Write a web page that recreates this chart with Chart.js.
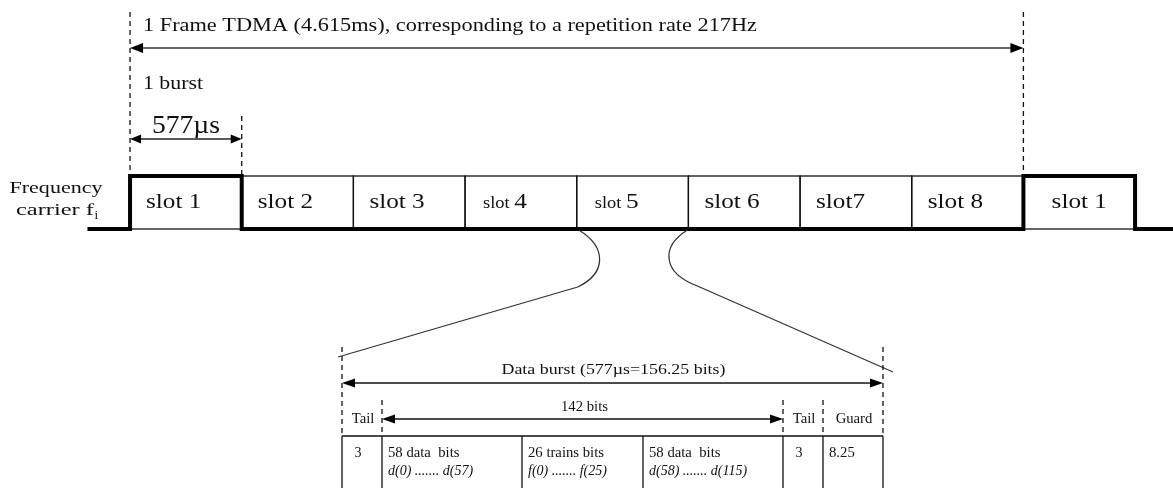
<!DOCTYPE html>
<html>
<head>
<meta charset="utf-8">
<script src="https://cdn.jsdelivr.net/npm/chart.js@4.4.1/dist/chart.umd.min.js"></script>
<style>
  html, body { margin: 0; padding: 0; background: #fff; }
  #wrap { width: 1173px; height: 488px; position: relative; }
</style>
</head>
<body>
<div id="wrap"><canvas id="tdma"></canvas></div>
<script>
// GSM TDMA frame, 8 slots, slot 1 comes again in the next frame
const slotLabels = ["slot 1", "slot 2", "slot 3", "slot 4", "slot 5", "slot 6", "slot7", "slot 8", "slot 1"];
const carrierOn = [1, 0, 0, 0, 0, 0, 0, 0, 1]; // carrier fi active during the slot
const burstUs = 577;
const frameMs = 4.615;
const repRateHz = 217;
const zoomSlot = 4; // slot 5 is expanded below

// normal burst layout
const fieldHead = ["Tail", "", "", "", "Tail", "Guard"];
const fieldBits = [3, 58, 26, 58, 3, 8.25];
const fieldName = ["", "58 data  bits", "26 trains bits", "58 data  bits", "", ""];
const fieldRange = ["", "d(0) ....... d(57)", "f(0) ....... f(25)", "d(58) ....... d(115)", "", ""];
const burstBits = 156.25;
const payloadBits = 142;

// stepped carrier envelope (level holds until next point)
const carrierPts = [{ x: -220, y: 0 }];
carrierOn.forEach((v, i) => carrierPts.push({ x: i * burstUs, y: v }));
carrierPts.push({ x: slotLabels.length * burstUs, y: 0 });
carrierPts.push({ x: 5600, y: 0 });

const FONT = "'Liberation Serif', 'Times New Roman', serif";
const INK = "#111";

function txt(ctx, s, x, y, size, o = {}) {
  ctx.save();
  ctx.font = (o.italic ? "italic " : "") + size + "px " + FONT;
  const w = ctx.measureText(s).width;
  const sx = o.width ? o.width / w : (o.sx || 1);
  ctx.translate(x, y);
  ctx.scale(sx, 1);
  ctx.textAlign = o.align || "left";
  ctx.textBaseline = "alphabetic";
  ctx.fillStyle = INK;
  ctx.fillText(s, 0, 0);
  ctx.restore();
  return w * sx;
}

function dashed(ctx, x, y1, y2) {
  ctx.save();
  ctx.strokeStyle = "#111";
  ctx.lineWidth = 1.3;
  ctx.setLineDash([5, 4]);
  ctx.beginPath();
  ctx.moveTo(x, y1);
  ctx.lineTo(x, y2);
  ctx.stroke();
  ctx.restore();
}

function arrow(ctx, x1, x2, y, head, hw, color, lw) {
  ctx.save();
  ctx.strokeStyle = color;
  ctx.lineWidth = lw;
  ctx.beginPath();
  ctx.moveTo(x1 + head * 0.5, y);
  ctx.lineTo(x2 - head * 0.5, y);
  ctx.stroke();
  ctx.fillStyle = "#000";
  ctx.beginPath();
  ctx.moveTo(x1, y);
  ctx.lineTo(x1 + head, y - hw);
  ctx.lineTo(x1 + head, y + hw);
  ctx.closePath();
  ctx.fill();
  ctx.beginPath();
  ctx.moveTo(x2, y);
  ctx.lineTo(x2 - head, y - hw);
  ctx.lineTo(x2 - head, y + hw);
  ctx.closePath();
  ctx.fill();
  ctx.restore();
}

const slotBoxes = {
  id: "slotBoxes",
  beforeDatasetsDraw(chart) {
    const ctx = chart.ctx;
    const xs = chart.scales.x, ys = chart.scales.y;
    const yHi = ys.getPixelForValue(1), yLo = ys.getPixelForValue(0);
    ctx.save();
    ctx.strokeStyle = "#111";
    ctx.lineWidth = 1.3;
    slotLabels.forEach((lab, i) => {
      const a = xs.getPixelForValue(i * burstUs), b = xs.getPixelForValue((i + 1) * burstUs);
      ctx.strokeRect(a, yHi, b - a, yLo - yHi);
    });
    ctx.restore();
  }
};

const annotate = {
  id: "annotate",
  afterDatasetsDraw(chart) {
    const ctx = chart.ctx;
    const xs = chart.scales.x, ys = chart.scales.y;
    const px = t => xs.getPixelForValue(t);
    const yHi = ys.getPixelForValue(1), yLo = ys.getPixelForValue(0);
    const nFrame = slotLabels.length - 1;

    // frame span
    dashed(ctx, px(0), 12, yHi);
    dashed(ctx, px(nFrame * burstUs), 12, yHi);
    dashed(ctx, px(burstUs), 116, yHi);
    txt(ctx, "1 Frame TDMA (" + frameMs + "ms), corresponding to a repetition rate " + repRateHz + "Hz",
      143, 31, 19, { width: 614 });
    arrow(ctx, px(0), px(nFrame * burstUs), 48, 13, 5, "#666", 2.2);
    txt(ctx, "1 burst", 143, 89, 19, { width: 60 });
    txt(ctx, burstUs + "\u00b5s", (px(0) + px(burstUs)) / 2, 133, 25, { width: 68, align: "center" });
    arrow(ctx, px(0), px(burstUs), 139, 11, 4.5, "#222", 1.6);

    // carrier label
    txt(ctx, "Frequency", 56, 193, 17, { width: 93, align: "center" });
    const cw = txt(ctx, "carrier f", 16, 215, 17, { width: 78 });
    txt(ctx, "i", 16 + cw + 0.5, 219, 12, { sx: 1.1 });

    // slot labels
    slotLabels.forEach((lab, i) => {
      const a = px(i * burstUs), b = px((i + 1) * burstUs);
      const by = 208;
      if (i === slotLabels.length - 1) {
        txt(ctx, lab, (a + b) / 2, by, 21, { sx: 1.2, align: "center" });
      } else if (i === 3 || i === 4) {
        const parts = lab.split(" ");
        const w = txt(ctx, parts[0] + " ", a + 18, by, 16, { sx: 1.15 });
        txt(ctx, parts[1], a + 18 + w, by, 22, { sx: 1.15 });
      } else {
        txt(ctx, lab, a + 16, by, 21, { sx: 1.2 });
      }
    });

    // zoom lines from slot 5
    const zl = px(zoomSlot * burstUs), zr = px((zoomSlot + 1) * burstUs);
    const tL = 342, tR = 883;
    ctx.save();
    ctx.strokeStyle = "#333";
    ctx.lineWidth = 1.3;
    ctx.beginPath();
    ctx.moveTo(zl + 2, yLo + 1);
    ctx.bezierCurveTo(zl + 30, yLo + 18, zl + 30, yLo + 44, zl + 1, yLo + 58);
    ctx.lineTo(tL - 4, 357);
    ctx.stroke();
    ctx.beginPath();
    ctx.moveTo(zr - 1, yLo + 1);
    ctx.bezierCurveTo(zr - 28, yLo + 18, zr - 26, yLo + 44, zr + 9, yLo + 57);
    ctx.lineTo(tR + 10, 372);
    ctx.stroke();
    ctx.restore();

    // burst detail
    const colW = [40, 140, 121, 140, 40, 60];
    const edges = [tL];
    colW.forEach(w => edges.push(edges[edges.length - 1] + w));
    const tableTop = 436;
    dashed(ctx, tL, 347, tableTop);
    dashed(ctx, tR, 347, tableTop);
    txt(ctx, "Data burst (" + burstUs + "\u00b5s=" + burstBits + " bits)", (tL + tR) / 2 + 1, 374, 14, { width: 224, align: "center" });
    arrow(ctx, tL, tR, 383, 13, 4.5, "#111", 1.5);

    dashed(ctx, edges[1], 400, tableTop);
    dashed(ctx, edges[4], 400, tableTop);
    dashed(ctx, edges[5], 400, tableTop);
    fieldHead.forEach((h, i) => {
      if (h) txt(ctx, h, (edges[i] + edges[i + 1]) / 2 + 1, 423, 14, { sx: 1.05, align: "center" });
    });
    txt(ctx, payloadBits + " bits", (edges[1] + edges[4]) / 2 + 2, 411, 14, { sx: 1.05, align: "center" });
    arrow(ctx, edges[1], edges[4], 419, 13, 4.5, "#111", 1.5);

    ctx.save();
    ctx.strokeStyle = "#111";
    ctx.lineWidth = 1.3;
    ctx.beginPath();
    ctx.moveTo(tL, tableTop);
    ctx.lineTo(tR, tableTop);
    edges.forEach(x => { ctx.moveTo(x, tableTop); ctx.lineTo(x, 488); });
    ctx.stroke();
    ctx.restore();

    fieldBits.forEach((bits, i) => {
      const a = edges[i], b = edges[i + 1];
      if (fieldName[i]) {
        txt(ctx, fieldName[i], a + 6, 457, 14, { sx: 1.05 });
        txt(ctx, fieldRange[i], a + 6, 475, 14, { italic: true, sx: 1.0 });
      } else if (bits === 3) {
        txt(ctx, String(bits), (a + b) / 2 - 4, 457, 14, { align: "center" });
      } else {
        txt(ctx, String(bits), a + 6, 457, 14, { sx: 1.05 });
      }
    });
  }
};

new Chart(document.getElementById("tdma"), {
  type: "line",
  data: {
    datasets: [{
      data: carrierPts,
      stepped: true,
      borderColor: "#000",
      borderWidth: 4,
      borderJoinStyle: "miter",
      borderCapStyle: "butt",
      pointRadius: 0,
      fill: false
    }]
  },
  options: {
    animation: false,
    responsive: true,
    maintainAspectRatio: false,
    layout: { padding: 0 },
    plugins: { legend: { display: false }, tooltip: { enabled: false } },
    scales: {
      x: { type: "linear", min: -672, max: 5389, display: false },
      y: { type: "linear", min: -4.887, max: 4.321, display: false }
    }
  },
  plugins: [slotBoxes, annotate]
});
</script>
</body>
</html>
